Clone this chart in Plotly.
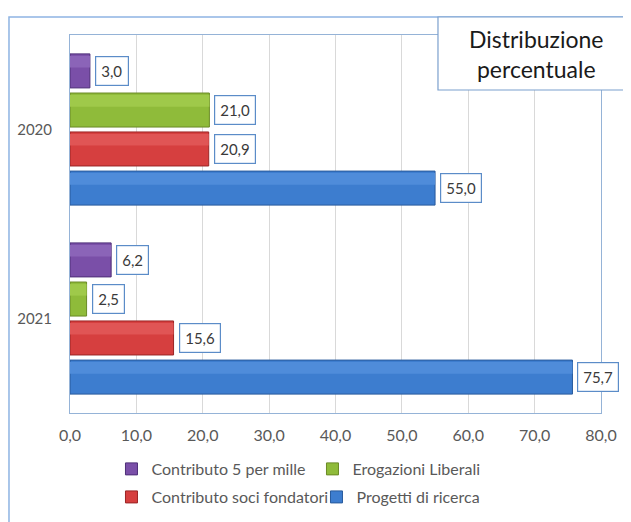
import plotly.graph_objects as go

years = ["2020", "2021"]
series_names = ["Contributo 5 per mille", "Erogazioni Liberali", "Contributo soci fondatori", "Progetti di ricerca"]
contributo_5_per_mille = [3.0, 6.2]
erogazioni_liberali = [21.0, 2.5]
contributo_soci_fondatori = [20.9, 15.6]
progetti_di_ricerca = [55.0, 75.7]
x_tick_values = [0, 10, 20, 30, 40, 50, 60, 70, 80]

series_values = [contributo_5_per_mille, erogazioni_liberali, contributo_soci_fondatori, progetti_di_ricerca]
fill_colors = ["#7a4fa8", "#8fbb3a", "#d63f3f", "#3d7dcf"]
light_colors = ["#8b64b8", "#9fc94a", "#e05555", "#4f8cda"]
edge_colors = ["#4e2f78", "#6a8a26", "#9a2424", "#285a9c"]

FONT = "Lato"
cat_order = ["2021", "2020"]  # bottom to top
centers = [0.31, 0.103, -0.103, -0.31]
bar_w = 0.18

fig = go.Figure()
annotations = []
for k, (name, vals) in enumerate(zip(series_names, series_values)):
    fig.add_trace(go.Bar(
        name=name, y=years, x=vals, orientation="h",
        offset=centers[k] - bar_w / 2, width=bar_w,
        marker=dict(color=fill_colors[k], line=dict(color=edge_colors[k], width=1)),
        legend="legend" if k < 2 else "legend2",
        hoverinfo="skip",
    ))
    # subtle bevel highlight on the upper part of each bar
    fig.add_trace(go.Bar(
        name=name, y=years, x=vals, orientation="h",
        offset=centers[k] + bar_w * 0.1, width=bar_w * 0.34,
        marker=dict(color=light_colors[k], line=dict(width=0)),
        showlegend=False, hoverinfo="skip",
    ))
    for yr, v in zip(years, vals):
        annotations.append(dict(
            x=v, y=cat_order.index(yr) + centers[k], xref="x", yref="y",
            text=f"{v:.1f}".replace(".", ","), showarrow=False,
            xanchor="left", yanchor="middle", xshift=5,
            font=dict(family=FONT, size=15, color="#3a3a3a"),
            bgcolor="white", bordercolor="#5b8cc8", borderwidth=1.2, borderpad=5,
        ))

annotations.append(dict(
    x=0.879, y=0.95, xref="paper", yref="paper",
    text="Distribuzione<br>percentuale", showarrow=False,
    xanchor="center", yanchor="middle",
    font=dict(family=FONT, size=23, color="#1a1a1a"),
))

shapes = [
    dict(type="rect", xref="paper", yref="paper", x0=-0.1149, x1=1.3, y0=-0.6, y1=1.0476,
         line=dict(color="#8eb4e3", width=1.5), fillcolor="rgba(0,0,0,0)", layer="below"),
    dict(type="rect", xref="paper", yref="paper", x0=0.693, x1=1.3, y0=0.8545, y1=1.0476,
         line=dict(color="#7ba0cd", width=1.2), fillcolor="white", layer="above"),
]

fig.update_layout(
    width=631, height=522,
    margin=dict(l=62, r=38, t=27, b=117, autoexpand=False),
    paper_bgcolor="white", plot_bgcolor="white",
    barmode="overlay",
    separators=",.",
    font=dict(family=FONT, size=15, color="#595959"),
    xaxis=dict(range=[0, 80], tickvals=x_tick_values, tickformat=".1f",
               showgrid=True, gridcolor="#d9d9d9", gridwidth=1,
               showline=True, linecolor="#95b3d7", mirror=True, zeroline=False,
               automargin=False,
               ticks="", ticklabelstandoff=8, tickfont=dict(size=16, color="#595959")),
    yaxis=dict(type="category", categoryorder="array", categoryarray=cat_order,
               range=[-0.5, 1.5], showgrid=False, automargin=False,
               showline=True, linecolor="#95b3d7", mirror=True, zeroline=False,
               ticks="", ticklabelstandoff=14, tickfont=dict(size=15, color="#595959")),
    legend=dict(orientation="h", xref="container", yref="container", x=0.164, y=0.1169,
                xanchor="left", yanchor="middle", entrywidth=156, entrywidthmode="pixels",
                traceorder="normal", font=dict(size=16, color="#595959"), itemwidth=30),
    legend2=dict(orientation="h", xref="container", yref="container", x=0.164, y=0.0632,
                 xanchor="left", yanchor="middle", entrywidth=160, entrywidthmode="pixels",
                 traceorder="normal", font=dict(size=16, color="#595959"), itemwidth=30),
    annotations=annotations,
    shapes=shapes,
    showlegend=True,
)

fig.write_html("out.html")
